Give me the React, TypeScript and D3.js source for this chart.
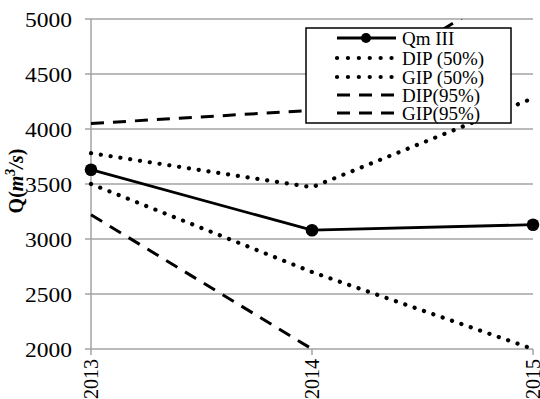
import React from 'react';
import * as d3 from 'd3';

const years = ['2013', '2014', '2015'];
const qm = [3630, 3080, 3130];
const dip50 = [3780, 3470, 4280];
const gip50 = [3500, 2700, 2000];
const dip95 = [4050, 4170, 5410];
const gip95 = [3220, 2000, 800];
const yTicks = [2000, 2500, 3000, 3500, 4000, 4500, 5000];
const legendLabels = ['Qm III', 'DIP (50%)', 'GIP (50%)', 'DIP(95%)', 'GIP(95%)'];

const W = 540, H = 399;
const left = 91, right = 533, top = 19, bottom = 349;
const FONT = '"Liberation Serif", serif';

export default function App() {
  const x = d3.scalePoint<string>().domain(years).range([left, right]);
  const y = d3.scaleLinear().domain([2000, 5000]).range([bottom, top]);
  const line = d3.line<number>().x((_, i) => x(years[i]) as number).y(d => y(d));

  const series = [
    { data: qm, dash: undefined as string | undefined, width: 2.8, cap: 'butt', markers: true },
    { data: dip50, dash: '0.1 9.8', width: 4.2, cap: 'round', markers: false },
    { data: gip50, dash: '0.1 9.8', width: 4.2, cap: 'round', markers: false },
    { data: dip95, dash: '13 9', width: 3, cap: 'butt', markers: false },
    { data: gip95, dash: '13 9', width: 3, cap: 'butt', markers: false },
  ];
  const legendDash = [undefined, '0.1 10.8', '0.1 10.8', '13 9', '13 9'];

  const grid = '#a3a3a3';
  const lg = { x: 306, y: 28, w: 205, h: 95 };
  const rowY = [38, 58, 77, 95, 113];

  return (
    <div style={{ position: 'absolute', left: 0, top: 0 }}>
      <svg width={W} height={H} style={{ display: 'block', background: '#fff' }}>
        <defs>
          <clipPath id="plotClip">
            <rect x={left - 10} y={top} width={right - left + 20} height={bottom - top} />
          </clipPath>
        </defs>
        {yTicks.map(t => (
          <g key={t}>
            <line x1={left - 6} x2={right} y1={y(t)} y2={y(t)} stroke={grid} strokeWidth={1.5} />
            <text x={72} y={y(t)} dy="0.35em" textAnchor="end" fontFamily={FONT} fontSize={21.5}
              textLength={47} lengthAdjust="spacingAndGlyphs" fill="#000">{t}</text>
          </g>
        ))}
        <line x1={left} x2={left} y1={top} y2={bottom} stroke={grid} strokeWidth={1.5} />
        {years.map(yr => (
          <g key={yr}>
            <line x1={x(yr)} x2={x(yr)} y1={bottom} y2={bottom + 6} stroke={grid} strokeWidth={1.5} />
            <text transform={`translate(${x(yr)},${bottom + 10}) rotate(-90)`} dy="0.35em" textAnchor="end"
              fontFamily={FONT} fontSize={20} fill="#000">{yr}</text>
          </g>
        ))}
        <text transform={`translate(23,181) rotate(-90)`} textAnchor="middle" fontFamily={FONT}
          fontSize={20} fontWeight="bold" fill="#000">
          Q(<tspan fontStyle="italic">m</tspan><tspan dy={-8} fontSize={14} fontStyle="italic">3</tspan><tspan dy={8} fontStyle="italic">/s</tspan>)
        </text>
        <g clipPath="url(#plotClip)">
          {series.map((s, i) => (
            <path key={i} d={line(s.data) || ''} fill="none" stroke="#000" strokeWidth={s.width}
              strokeDasharray={s.dash} strokeLinecap={s.cap as any} />
          ))}
          {qm.map((v, i) => (
            <circle key={i} cx={x(years[i])} cy={y(v)} r={6.3} fill="#000" />
          ))}
        </g>
        <rect x={lg.x} y={lg.y} width={lg.w} height={lg.h} fill="#fff" stroke="#000" strokeWidth={1.5} />
        {series.map((s, i) => (
          <g key={i}>
            <line x1={337} x2={396} y1={rowY[i]} y2={rowY[i]} stroke="#000" strokeWidth={s.width}
              strokeDasharray={legendDash[i]} strokeLinecap={s.cap as any} />
            {s.markers && <circle cx={366} cy={rowY[i]} r={5} fill="#000" />}
            <text x={402} y={rowY[i]} dy="0.35em" fontFamily={FONT} fontSize={19} fill="#000">{legendLabels[i]}</text>
          </g>
        ))}
      </svg>
    </div>
  );
}
